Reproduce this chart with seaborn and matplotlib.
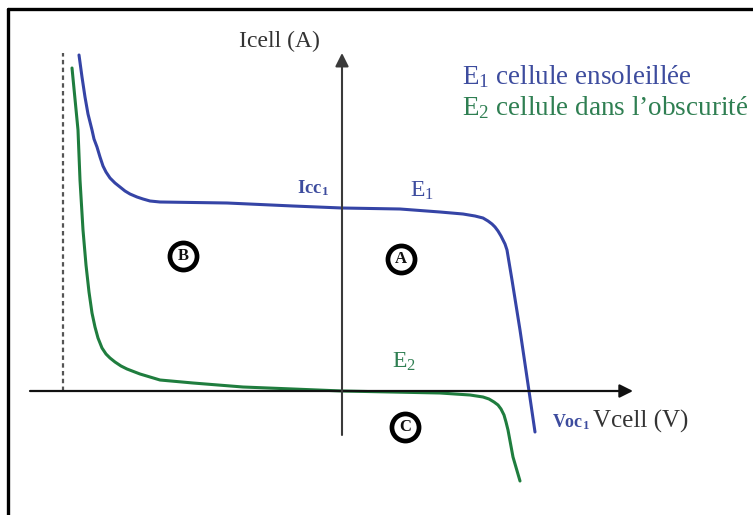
import matplotlib
matplotlib.use("Agg")
import matplotlib.pyplot as plt
import seaborn as sns
import pandas as pd
from matplotlib.lines import Line2D

# ---- data (schematic I-V characteristics, arbitrary units) ----
e1_v = [-2.63, -2.60, -2.57, -2.54, -2.50, -2.48, -2.45, -2.42, -2.39, -2.36,
        -2.32, -2.27, -2.22, -2.17, -2.12, -2.05, -1.99, -1.92, -1.82, -1.15,
        -0.49, 0.00, 0.58, 0.98, 1.21, 1.33, 1.41, 1.46, 1.50, 1.53,
        1.56, 1.59, 1.61, 1.63, 1.65, 1.66, 1.70, 1.78, 1.87, 1.93]
e1_i = [3.36, 3.14, 2.94, 2.77, 2.61, 2.52, 2.44, 2.34, 2.25, 2.19,
        2.13, 2.08, 2.04, 2.00, 1.97, 1.94, 1.92, 1.90, 1.89, 1.88,
        1.85, 1.83, 1.82, 1.79, 1.77, 1.75, 1.73, 1.70, 1.67, 1.64,
        1.60, 1.55, 1.51, 1.47, 1.41, 1.35, 1.11, 0.61, 0.00, -0.41]
e2_v = [-2.70, -2.67, -2.64, -2.62, -2.59, -2.56, -2.53, -2.50, -2.47, -2.44,
        -2.40, -2.36, -2.32, -2.27, -2.21, -2.15, -2.02, -1.82, -1.49, -0.99,
        -0.49, 0.00, 0.98, 1.28, 1.41, 1.47, 1.52, 1.56, 1.59, 1.62,
        1.64, 1.66, 1.71, 1.78]
e2_i = [3.23, 2.92, 2.61, 2.11, 1.61, 1.26, 0.99, 0.78, 0.64, 0.53,
        0.43, 0.37, 0.33, 0.29, 0.25, 0.22, 0.17, 0.11, 0.08, 0.04,
        0.02, 0.00, -0.02, -0.04, -0.06, -0.08, -0.11, -0.14, -0.18, -0.24,
        -0.31, -0.39, -0.66, -0.90]
breakdown_v = -2.79
legend_labels = ["E$_1$ cellule ensoleillée", "E$_2$ cellule dans l’obscurité"]
zone_labels = ["A", "B", "C"]

BLUE = "#3544a6"
GREEN = "#1f7d3e"
BLUE_TXT = "#3d4c9e"
GREEN_TXT = "#2f7f52"

sns.set_theme(style="white")
plt.rcParams["font.family"] = ["Liberation Serif", "DejaVu Serif"]
plt.rcParams["mathtext.fontset"] = "custom"
plt.rcParams["mathtext.rm"] = "Liberation Serif"
plt.rcParams["mathtext.it"] = "Liberation Serif:italic"
plt.rcParams["mathtext.bf"] = "Liberation Serif:bold"

fig = plt.figure(figsize=(7.53, 5.15), dpi=100)
ax = fig.add_axes([0, 0, 1, 1])
ax.set_xlim(-3.42, 4.11)
ax.set_ylim(-1.24, 3.91)
ax.axis("off")

df1 = pd.DataFrame({"V": e1_v, "I": e1_i})
df2 = pd.DataFrame({"V": e2_v, "I": e2_i})
sns.lineplot(data=df1, x="V", y="I", sort=False, color=BLUE, lw=2.2, ax=ax)
sns.lineplot(data=df2, x="V", y="I", sort=False, color=GREEN, lw=2.2, ax=ax)
for ln in ax.lines:
    ln.set_solid_joinstyle("round")
    ln.set_solid_capstyle("round")

# dashed breakdown line
ax.plot([breakdown_v, breakdown_v], [0, 3.38], color="#555555", lw=1.6,
        ls=(0, (2.0, 1.5)))

# axes with arrows
ax.annotate("", xy=(2.91, 0), xytext=(-3.12, 0),
            arrowprops=dict(arrowstyle="-|>", color="#111111", lw=1.6,
                            mutation_scale=20, shrinkA=0, shrinkB=0))
ax.annotate("", xy=(0, 3.38), xytext=(0, -0.44),
            arrowprops=dict(arrowstyle="-|>", color="#3a3a3a", lw=1.5,
                            mutation_scale=20, shrinkA=0, shrinkB=0))

# axis titles
ax.text(-1.03, 3.44, "Icell (A)", fontsize=17, color="#333333",
        ha="left", va="baseline")
ax.text(2.51, -0.37, "Vcell (V)", fontsize=18, color="#333333",
        ha="left", va="baseline")

# legend-like texts
ax.text(1.20, 3.07, legend_labels[0], fontsize=19.5, color=BLUE_TXT,
        ha="left", va="baseline")
ax.text(1.20, 2.76, legend_labels[1], fontsize=19.5, color=GREEN_TXT,
        ha="left", va="baseline")

# curve labels
ax.text(-0.45, 1.98, r"$\mathbf{Icc_1}$", fontsize=13.5, color=BLUE_TXT,
        ha="left", va="baseline")
ax.text(0.68, 1.94, "E$_1$", fontsize=17, color=BLUE_TXT,
        ha="left", va="baseline")
ax.text(0.50, 0.23, "E$_2$", fontsize=17, color=GREEN_TXT,
        ha="left", va="baseline")
ax.text(2.10, -0.36, r"$\mathbf{Voc_1}$", fontsize=13, color=BLUE_TXT,
        ha="left", va="baseline")

# circled zone labels
zone_pos = {"A": (0.59, 1.32), "B": (-1.59, 1.35), "C": (0.63, -0.36)}
for lab in zone_labels:
    x, y = zone_pos[lab]
    ax.plot([x], [y], marker="o", ms=19.5, mfc="white", mec="black", mew=3.4)
    ax.text(x, y, lab, fontsize=12, fontweight="bold", color="#111111",
            ha="center", va="center")

# frame (top and left borders)
fig.add_artist(Line2D([8 / 753, 8 / 753], [0, 1 - 9 / 515], color="black",
                      lw=2.4, transform=fig.transFigure))
fig.add_artist(Line2D([8 / 753, 1], [1 - 9 / 515, 1 - 9 / 515], color="black",
                      lw=2.4, transform=fig.transFigure))

fig.savefig("out.png", dpi=100, facecolor="white")
